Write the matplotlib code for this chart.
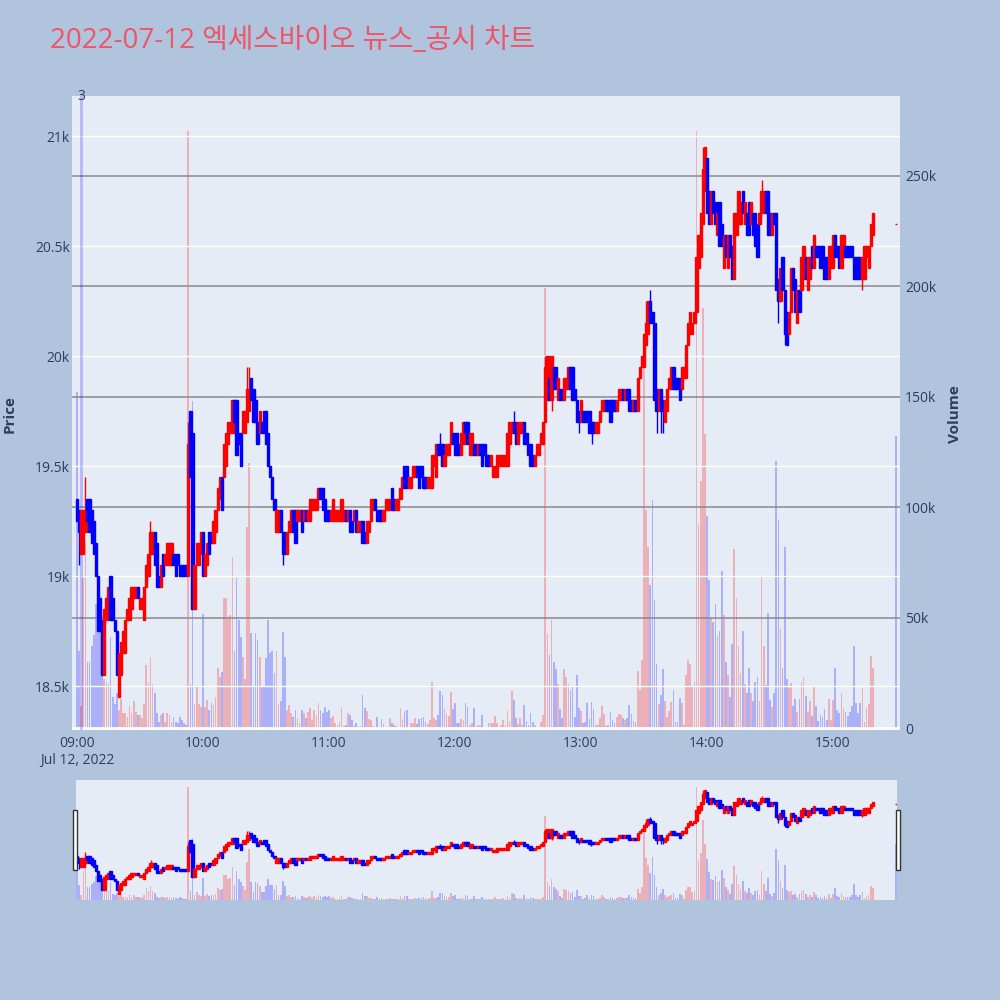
import numpy as np
import matplotlib.pyplot as plt
import matplotlib.transforms as mtransforms
from matplotlib.patches import Rectangle
from matplotlib.ticker import FuncFormatter

plt.rcParams['font.family'] = ['Open Sans', 'DejaVu Sans']

# 1-minute candles, 09:00 .. 15:19, then the 15:30 closing print
open_px = [
    19350, 19300, 19100, 19100, 19200, 19350, 19350, 19300, 19250, 19150,
    19000, 18900, 18800, 18550, 18800, 18850, 19000, 18900, 18800, 18750,
    18450, 18550, 18650, 18650, 18800, 18800, 18850, 18900, 18900, 18950,
    18850, 18850, 18800, 18950, 19000, 19100, 19100, 19200, 19150, 19000,
    18950, 19100, 19050, 19050, 19050, 19050, 19100, 19100, 19100, 19050,
    19050, 19050, 19050, 19000, 19750, 19650, 18850, 19050, 19050, 19100,
    19200, 19000, 19050, 19200, 19200, 19150, 19200, 19300, 19350, 19450,
    19450, 19500, 19600, 19650, 19650, 19800, 19800, 19650, 19650, 19650,
    19650, 19700, 19750, 19900, 19850, 19800, 19700, 19650, 19700, 19750,
    19750, 19650, 19500, 19450, 19350, 19200, 19200, 19300, 19200, 19200,
    19100, 19200, 19200, 19300, 19300, 19250, 19250, 19300, 19250, 19300,
    19250, 19250, 19300, 19300, 19300, 19350, 19400, 19400, 19350, 19300,
    19300, 19250, 19250, 19250, 19250, 19250, 19250, 19250, 19300, 19250,
    19300, 19250, 19250, 19300, 19200, 19200, 19250, 19200, 19150, 19200,
    19250, 19300, 19350, 19300, 19300, 19300, 19250, 19300, 19300, 19300,
    19400, 19350, 19300, 19300, 19350, 19400, 19500, 19500, 19400, 19400,
    19450, 19450, 19500, 19500, 19500, 19450, 19450, 19400, 19400, 19400,
    19500, 19450, 19600, 19600, 19600, 19500, 19550, 19550, 19600, 19650,
    19650, 19650, 19600, 19550, 19600, 19700, 19700, 19550, 19550, 19600,
    19600, 19550, 19600, 19600, 19600, 19550, 19550, 19500, 19450, 19450,
    19450, 19500, 19500, 19500, 19500, 19500, 19600, 19650, 19700, 19700,
    19600, 19650, 19650, 19700, 19650, 19600, 19600, 19550, 19500, 19550,
    19550, 19600, 19600, 19700, 19800, 19900, 19800, 19950, 19950, 19800,
    19850, 19850, 19800, 19850, 19850, 19950, 19950, 19850, 19800, 19750,
    19700, 19750, 19750, 19750, 19750, 19700, 19700, 19650, 19650, 19700,
    19750, 19750, 19800, 19800, 19800, 19800, 19800, 19750, 19800, 19800,
    19850, 19800, 19850, 19850, 19800, 19750, 19800, 19750, 19900, 19950,
    19950, 20050, 20100, 20250, 20200, 20150, 19850, 19750, 19850, 19800,
    19700, 19750, 19850, 19850, 19950, 19900, 19900, 19900, 19850, 19900,
    19900, 20050, 20100, 20100, 20150, 20200, 20400, 20450, 20600, 20750,
    20900, 20750, 20600, 20750, 20700, 20550, 20700, 20600, 20400, 20550,
    20400, 20550, 20500, 20350, 20550, 20600, 20600, 20750, 20600, 20650,
    20700, 20600, 20650, 20650, 20600, 20600, 20650, 20650, 20750, 20750,
    20650, 20550, 20650, 20650, 20350, 20250, 20450, 20300, 20200, 20100,
    20200, 20400, 20350, 20150, 20300, 20300, 20350, 20450, 20300, 20350,
    20500, 20400, 20500, 20500, 20500, 20500, 20450, 20450, 20350, 20400,
    20400, 20550, 20500, 20500, 20400, 20450, 20500, 20500, 20500, 20500,
    20450, 20450, 20450, 20450, 20350, 20350, 20450, 20400, 20500, 20550,
    20600,
]
close_px = [
    19250, 19200, 19300, 19300, 19300, 19250, 19200, 19150, 19100, 19000,
    18750, 18750, 18550, 18850, 18900, 18950, 18800, 18800, 18750, 18550,
    18650, 18700, 18750, 18800, 18850, 18900, 18950, 18950, 18950, 18900,
    18900, 18900, 18950, 19050, 19100, 19200, 19200, 19050, 18950, 18950,
    19050, 19000, 19100, 19150, 19150, 19150, 19050, 19000, 19050, 19000,
    19000, 19000, 19000, 19600, 19450, 18850, 19050, 19150, 19150, 19200,
    19000, 19100, 19150, 19100, 19150, 19250, 19300, 19400, 19450, 19300,
    19600, 19650, 19700, 19700, 19800, 19700, 19550, 19600, 19500, 19750,
    19750, 19850, 19850, 19800, 19700, 19700, 19600, 19750, 19650, 19650,
    19600, 19500, 19450, 19350, 19300, 19300, 19300, 19200, 19100, 19100,
    19200, 19250, 19300, 19200, 19150, 19300, 19300, 19200, 19300, 19250,
    19300, 19350, 19350, 19350, 19350, 19400, 19350, 19300, 19250, 19250,
    19250, 19300, 19350, 19300, 19300, 19300, 19350, 19300, 19250, 19300,
    19200, 19200, 19300, 19200, 19250, 19250, 19150, 19150, 19250, 19250,
    19350, 19350, 19300, 19250, 19250, 19250, 19300, 19350, 19350, 19350,
    19300, 19300, 19350, 19350, 19400, 19450, 19400, 19400, 19450, 19450,
    19500, 19500, 19450, 19400, 19450, 19400, 19400, 19450, 19450, 19550,
    19550, 19600, 19550, 19550, 19500, 19550, 19600, 19600, 19700, 19600,
    19550, 19550, 19550, 19650, 19700, 19650, 19600, 19650, 19650, 19550,
    19550, 19600, 19550, 19500, 19550, 19500, 19500, 19550, 19500, 19500,
    19550, 19550, 19550, 19550, 19550, 19650, 19700, 19700, 19650, 19600,
    19700, 19700, 19700, 19600, 19600, 19550, 19500, 19500, 19550, 19600,
    19600, 19650, 19700, 19950, 20000, 19800, 20000, 19850, 19850, 19900,
    19800, 19800, 19900, 19900, 19950, 19850, 19800, 19800, 19700, 19700,
    19800, 19700, 19700, 19700, 19650, 19650, 19650, 19700, 19700, 19750,
    19800, 19800, 19750, 19750, 19700, 19750, 19750, 19800, 19850, 19850,
    19800, 19850, 19800, 19750, 19750, 19800, 19750, 19900, 19950, 20000,
    20100, 20150, 20250, 20150, 20150, 19800, 19750, 19850, 19750, 19750,
    19800, 19850, 19900, 19950, 19850, 19850, 19850, 19800, 19950, 19950,
    20050, 20150, 20200, 20150, 20200, 20450, 20550, 20650, 20850, 20950,
    20650, 20600, 20750, 20650, 20600, 20650, 20500, 20500, 20550, 20450,
    20550, 20450, 20350, 20650, 20650, 20750, 20700, 20650, 20700, 20550,
    20550, 20700, 20550, 20500, 20450, 20650, 20750, 20750, 20650, 20550,
    20550, 20650, 20600, 20300, 20250, 20400, 20300, 20100, 20050, 20200,
    20400, 20300, 20200, 20300, 20200, 20450, 20500, 20350, 20450, 20450,
    20400, 20550, 20450, 20450, 20400, 20450, 20350, 20350, 20500, 20500,
    20550, 20450, 20450, 20400, 20550, 20550, 20450, 20450, 20450, 20450,
    20350, 20350, 20350, 20350, 20450, 20500, 20500, 20500, 20600, 20650,
    20600,
]
# wicks that stick out past the candle body (minute index -> price)
wick_high = {4: 19450, 35: 19250, 53: 19700, 81: 19950, 82: 19950, 173: 19650,
             208: 19750, 223: 20000, 271: 20250, 273: 20300, 298: 20950, 326: 20800}
wick_low = {1: 19050, 98: 19050, 226: 19750, 239: 19650, 245: 19600, 276: 19650,
            278: 19650, 279: 19650, 334: 20150, 337: 20050, 374: 20300}

volume_k = [
    152, 35, 10, 68, 84, 30, 30, 37, 42, 56,
    47, 59, 28, 22, 21, 20, 41, 14, 11, 16,
    8, 13, 7, 6.6, 5.1, 10, 6.6, 12, 7.4, 5.9,
    5.9, 4.4, 11, 28.5, 21, 32, 20, 16, 6.6, 2.9,
    5.9, 6.6, 2.9, 6.6, 5.9, 2.9, 5.1, 2.9, 2.1, 5.1,
    3.6, 2.1, 1.4, 270, 20, 148, 11, 18.7, 11, 9.6,
    51.6, 9.7, 12.7, 8.1, 11.2, 10.4, 14.2, 27, 23, 25.5,
    58.7, 59, 50, 51, 77.5, 35, 68, 49, 41, 32,
    22, 91, 120, 43, 18.7, 43, 40, 32, 18.7, 18.7,
    31.5, 49, 34, 35, 25, 35, 11, 12, 43.6, 32,
    8.1, 10.4, 6.6, 5.1, 8.1, 4.4, 2.1, 8.1, 6.6, 4.4,
    7.4, 8.9, 3.6, 8.1, 5.9, 11.2, 8.1, 6.6, 9.7, 7.4,
    8.1, 4.4, 5.4, 2.1, 1.4, 2.9, 9.7, 1.0, 1.4, 6.9,
    5.9, 3.6, 0.9, 2.4, 1.0, 0.9, 14.8, 9.0, 7.8, 3.9,
    3.6, 0.9, 0.5, 5.1, 0.5, 4.2, 1.8, 0.6, 0.5, 4.4,
    2.4, 1.5, 0.9, 0.5, 8.9, 4.2, 7.8, 8.1, 0.6, 2.1,
    2.1, 4.4, 1.8, 4.2, 4.4, 5.1, 2.7, 1.8, 3.6, 20.8,
    4.7, 3.8, 5.9, 16.9, 14.9, 8.7, 6.3, 5.4, 16.3, 8.6,
    11.5, 2.4, 2.4, 4.2, 3.6, 11.5, 9.7, 1.5, 2.1, 9.0,
    0.5, 1.2, 0.9, 5.9, 0.6, 0.6, 2.4, 2.4, 2.4, 5.4,
    2.4, 0.5, 1.4, 3.6, 1.5, 7.5, 2.7, 16.6, 12.7, 4.4,
    1.8, 4.4, 1.4, 10.3, 3.3, 1.4, 6.6, 2.9, 1.5, 0.6,
    0.6, 2.6, 5.7, 199, 42.5, 33, 49, 30, 26.5, 20,
    8.4, 4.4, 26.5, 23, 20, 17, 19, 5.1, 24, 9,
    7.8, 2.1, 2.7, 11.2, 3.9, 11.8, 8.4, 1.4, 1.4, 4.4,
    10, 6.3, 0.9, 1.2, 7.1, 3.6, 2.4, 4.8, 6.3, 5.9,
    4.4, 3.6, 4.4, 10.4, 6.3, 3.3, 2.9, 26, 17, 31,
    166, 98.6, 82, 64.7, 103, 58, 29, 11, 15, 26.5,
    12, 5.1, 7.8, 11.9, 17, 2.9, 2.9, 13.4, 11.5, 1.4,
    24, 31, 29, 19, 21, 270, 92, 112, 190, 133,
    96, 67, 50, 48, 56, 42, 44, 71, 51, 30,
    24, 14, 38, 81, 59, 37, 25, 44, 20, 16,
    27, 16, 12, 21, 23, 12, 69, 37, 19.5, 52,
    12.7, 9.6, 16, 121, 94, 45, 27, 82, 22, 18,
    20.5, 10, 13, 7.4, 13, 21, 23, 14.5, 7.4, 12,
    5.4, 19, 10, 3.3, 5.9, 4.8, 8.4, 3.6, 13, 3.6,
    12.7, 27, 8.1, 6.6, 16, 8.9, 7.4, 5.4, 7.4, 10,
    37, 11.2, 6.6, 11.2, 18, 2.9, 8.9, 11, 32.6, 27,
    132,
]
news_minute = 2      # 09:02 news marker
news_count = "3"

price_ticks = [18500, 19000, 19500, 20000, 20500, 21000]
volume_ticks = [0, 50000, 100000, 150000, 200000, 250000]
hour_labels = ["09:00\nJul 12, 2022", "10:00", "11:00", "12:00", "13:00", "14:00", "15:00"]

minute = np.array(list(range(380)) + [390])
o = np.array(open_px, float)
c = np.array(close_px, float)
hi = np.maximum(o, c)
lo = np.minimum(o, c)
for k, v in wick_high.items():
    hi[k] = v
for k, v in wick_low.items():
    lo[k] = v
vol = np.array(volume_k) * 1000

UP, DOWN = '#ff0000', '#0000ff'
candle_col = np.where(c >= o, UP, DOWN)
vol_col = np.where(c > o, UP, DOWN)
TXT = '#2a3f5f'
PLOT_BG = '#e5ecf6'
PRICE_LIM = (18300, 21182)
VOL_LIM = (-900, 286000)


def draw(ax_p, ax_v):
    ax_v.bar(minute, vol, width=0.8, color=vol_col, alpha=0.25, linewidth=0, zorder=2)
    ax_p.vlines(minute, lo, hi, colors=candle_col, linewidth=1.0, zorder=3)
    ax_p.bar(minute, np.abs(c - o), bottom=np.minimum(o, c), width=1.1,
             color=candle_col, edgecolor=candle_col, linewidth=1.0, zorder=4)
    ax_p.set_ylim(*PRICE_LIM)
    ax_v.set_ylim(*VOL_LIM)
    for a in (ax_p, ax_v):
        for s in a.spines.values():
            s.set_visible(False)


fig = plt.figure(figsize=(10, 10), dpi=100, facecolor='#b0c4de')

# main chart
ax_v = fig.add_axes([0.072, 0.270, 0.828, 0.634], facecolor=PLOT_BG)
ax_p = ax_v.twinx()
ax_p.yaxis.tick_left()
ax_v.yaxis.tick_right()
draw(ax_p, ax_v)
ax_v.set_xlim(-2.38, 391.9)

for t in price_ticks:
    ax_p.axhline(t, color='white', linewidth=1.0, zorder=1)
for t in volume_ticks[1:]:
    ax_v.axhline(t, color='#8a8a8a', linewidth=1.3, alpha=0.85, zorder=3)
ax_v.axhline(0, color='white', linewidth=2, zorder=3)

ax_p.set_yticks(price_ticks)
ax_p.yaxis.set_major_formatter(FuncFormatter(lambda v, _: f"{v / 1000:g}k"))
ax_v.set_yticks(volume_ticks)
ax_v.yaxis.set_major_formatter(FuncFormatter(lambda v, _: "0" if v == 0 else f"{v / 1000:g}k"))
ax_v.set_xticks(range(0, 361, 60))
ax_v.set_xticklabels(hour_labels, multialignment='center')
ax_p.tick_params(axis='y', length=0, pad=1.5, labelsize=10, labelcolor=TXT)
ax_v.tick_params(axis='y', length=0, pad=3.6, labelsize=10, labelcolor=TXT)
ax_v.tick_params(axis='x', length=0, pad=4.0, labelsize=10, labelcolor=TXT)

# news marker
ax_p.axvline(news_minute, color=DOWN, alpha=0.22, linewidth=2, zorder=2)
trans = mtransforms.blended_transform_factory(ax_p.transData, ax_p.transAxes)
ax_p.text(news_minute, 1.0, news_count, transform=trans, ha='center', va='center',
          fontsize=10, color=TXT)

# range slider
ax_sv = fig.add_axes([0.076, 0.100, 0.821, 0.120], facecolor=PLOT_BG)
ax_sp = ax_sv.twinx()
draw(ax_sp, ax_sv)
ax_sv.set_xlim(-0.5, 390.5)
for a in (ax_sv, ax_sp):
    a.set_xticks([])
    a.set_yticks([])
for hx in (0.0733, 0.8955):
    fig.patches.append(Rectangle((hx, 0.130), 0.004, 0.060, transform=fig.transFigure,
                                 facecolor='white', edgecolor='#333333', linewidth=1.0))

fig.text(0.0095, 0.586, "Price", rotation=90, ha='center', va='center',
         fontsize=11, fontweight='bold', color=TXT)
fig.text(0.955, 0.586, "Volume", rotation=90, ha='center', va='center',
         fontsize=11, fontweight='bold', color=TXT)
fig.text(0.05, 0.9595, "2022-07-12 엑세스바이오 뉴스_공시 차트", ha='left', va='center',
         fontsize=20, color='#ee5566', family=['Open Sans', 'Noto Sans CJK KR', 'DejaVu Sans'])

fig.savefig("out.png", dpi=100, facecolor=fig.get_facecolor())
